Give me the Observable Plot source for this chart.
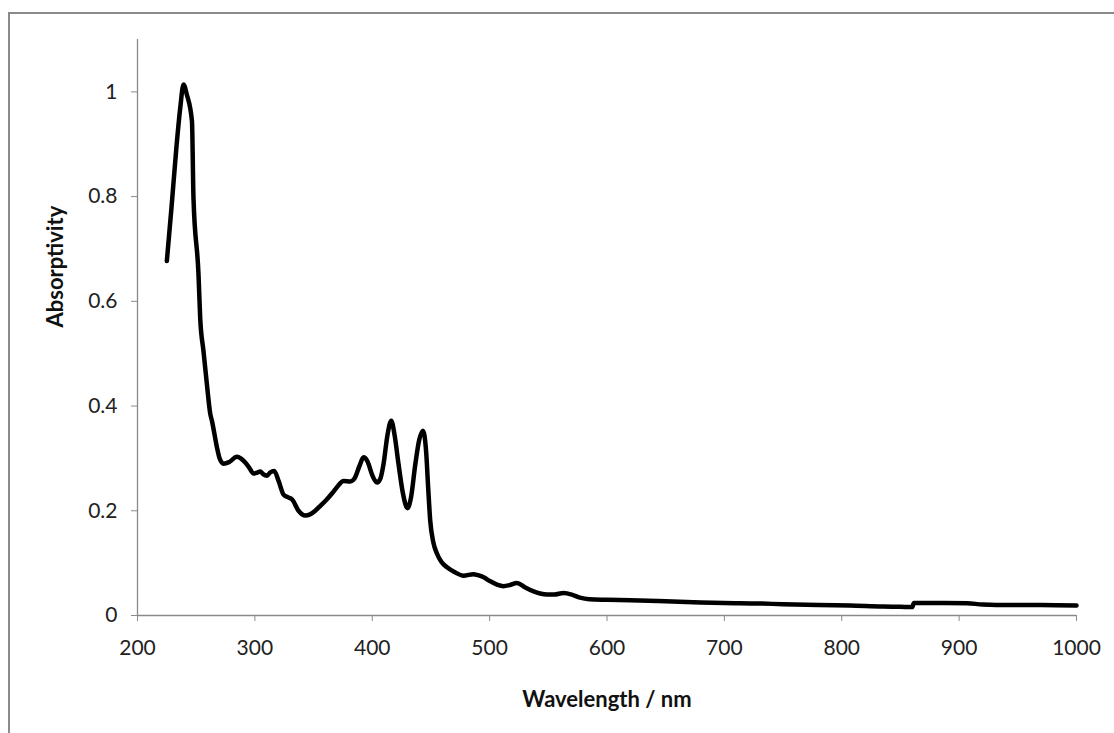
<!DOCTYPE html>
<html>
<head>
<meta charset="utf-8">
<script src="https://cdn.jsdelivr.net/npm/d3@7"></script>
<script src="https://cdn.jsdelivr.net/npm/@observablehq/plot@0.6"></script>
<style>
  html, body { margin: 0; padding: 0; background: #fff; }
  #wrap { position: relative; width: 1114px; height: 733px; overflow: hidden; }
  #frame { position: absolute; left: 8px; top: 12px; width: 1110px; height: 730px;
           border-top: 2px solid #8a8a8a; border-left: 2px solid #8a8a8a; box-sizing: border-box; }
  #chart { position: absolute; left: 0; top: 0; }
</style>
</head>
<body>
<div id="wrap"><div id="frame"></div><div id="chart"></div></div>
<script>
const wavelength = [225, 229, 233, 236.4, 239.2, 242, 246.4, 247.7, 252, 253.4, 256.2, 259.1, 262, 263.4, 267.7, 270, 273.3, 278, 284.7, 288, 291.8, 295, 298.9, 302, 304.6, 307, 310.3, 313, 316.5, 320.2, 324.4, 328, 331.6, 337.2, 342.9, 347, 351.4, 356, 361.4, 366, 369.9, 375.6, 381.3, 385, 389, 392.6, 396, 400, 404, 407, 409.6, 413, 416.2, 419, 422.4, 426, 430.1, 433, 436.7, 440, 443.2, 446, 447.5, 449.4, 452, 455.2, 459, 463.7, 470, 477.8, 486.3, 490, 494.9, 500, 506.3, 511.9, 517, 523.3, 530, 537.5, 543, 548.9, 555, 563, 570, 577, 585, 600, 620, 650, 680, 700, 730, 750, 780, 807, 835, 850, 860, 861.5, 880, 906.8, 920, 943.7, 970, 1000];
const absorptivity = [0.677, 0.78, 0.89, 0.969, 1.014, 0.995, 0.944, 0.797, 0.65, 0.569, 0.505, 0.442, 0.385, 0.372, 0.321, 0.300, 0.290, 0.293, 0.303, 0.300, 0.292, 0.283, 0.271, 0.273, 0.275, 0.270, 0.267, 0.273, 0.276, 0.257, 0.231, 0.226, 0.222, 0.200, 0.191, 0.193, 0.200, 0.210, 0.222, 0.234, 0.245, 0.257, 0.256, 0.262, 0.285, 0.302, 0.294, 0.268, 0.254, 0.262, 0.289, 0.345, 0.372, 0.345, 0.289, 0.235, 0.205, 0.225, 0.289, 0.335, 0.353, 0.31, 0.25, 0.181, 0.14, 0.118, 0.102, 0.092, 0.083, 0.076, 0.079, 0.077, 0.073, 0.066, 0.059, 0.056, 0.058, 0.062, 0.054, 0.046, 0.042, 0.040, 0.040, 0.043, 0.040, 0.034, 0.031, 0.030, 0.029, 0.027, 0.025, 0.024, 0.023, 0.0215, 0.020, 0.019, 0.017, 0.0165, 0.016, 0.024, 0.024, 0.0235, 0.021, 0.020, 0.020, 0.019];
const xTicks = [200, 300, 400, 500, 600, 700, 800, 900, 1000];
const xTickLabels = ["200", "300", "400", "500", "600", "700", "800", "900", "1000"];
const yTicks = [0, 0.2, 0.4, 0.6, 0.8, 1];
const yTickLabels = ["0", "0.2", "0.4", "0.6", "0.8", "1"];
const xTitle = "Wavelength / nm";
const yTitle = "Absorptivity";

const data = wavelength.map((w, i) => ({w, a: absorptivity[i]}));
const font = "Lato, 'Open Sans', sans-serif";

const chart = Plot.plot({
  width: 1114,
  height: 733,
  marginLeft: 137,
  marginRight: 38,
  marginTop: 39,
  marginBottom: 118,
  style: {fontFamily: font, background: "transparent", color: "#222"},
  x: {domain: [200, 1000]},
  y: {domain: [0, 1.1]},
  marks: [
    Plot.ruleX([200], {y1: 0, y2: 1.1, stroke: "#8a8a8a", strokeWidth: 1.3}),
    Plot.ruleY([0], {x1: 200, x2: 1000, stroke: "#8a8a8a", strokeWidth: 1.3}),
    Plot.axisX({ticks: xTicks, tickFormat: d => xTickLabels[xTicks.indexOf(d)], tickSize: 6, tickPadding: 19, fontSize: 21, stroke: "#8a8a8a", label: null, fill: "#222"}),
    Plot.axisY({ticks: yTicks, tickFormat: d => yTickLabels[yTicks.indexOf(d)], tickSize: 6, tickPadding: 14, fontSize: 21, stroke: "#8a8a8a", label: null, fill: "#222"}),
    Plot.line(data, {x: "w", y: "a", stroke: "#000", strokeWidth: 4.5, curve: "monotone-x", strokeLinejoin: "round", strokeLinecap: "round"}),
    Plot.text([xTitle], {frameAnchor: "bottom", dy: 84, text: d => d, fontSize: 22, fontWeight: "bold", fill: "#111", lineAnchor: "middle"}),
    Plot.text([yTitle], {frameAnchor: "left", dx: -82, text: d => d, rotate: -90, fontSize: 22, fontWeight: "bold", fill: "#111", lineAnchor: "middle"})
  ]
});
document.getElementById("chart").appendChild(chart);
</script>
</body>
</html>
